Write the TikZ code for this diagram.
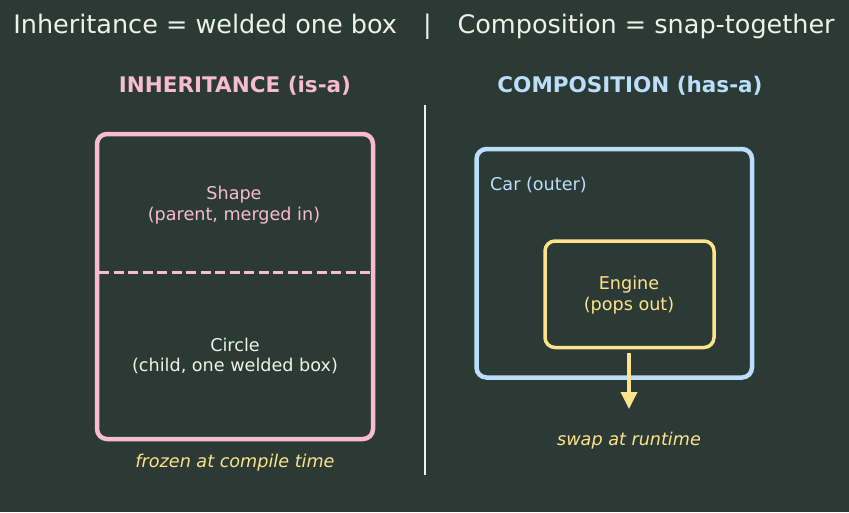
\documentclass[tikz,border=0pt]{standalone}
\usepackage{fontspec}
\setmainfont{DejaVu Sans}
\usetikzlibrary{arrows.meta}
\definecolor{bg}{HTML}{2B3A34}
\definecolor{pinkc}{HTML}{F8BBD0}
\definecolor{bluec}{HTML}{BBDEFB}
\definecolor{yelc}{HTML}{FFE38C}
\definecolor{whitec}{HTML}{EEF2E8}
\tikzset{
  x=1pt,y=-1pt,
  body/.style={font=\fontsize{17.6}{20.5}\selectfont, align=center, inner sep=0pt},
  head/.style={font=\fontsize{21.5}{24}\selectfont\bfseries, inner sep=0pt},
  note/.style={font=\fontsize{17.6}{20}\selectfont\itshape, text=yelc, inner sep=0pt},
  bigbox/.style={draw, line width=4.5pt, rounded corners=10pt, outer sep=0pt},
}
\begin{document}
\begin{tikzpicture}
\fill[bg] (0,0) rectangle (849,512);
\useasboundingbox (0,0) rectangle (849,512);
\node[inner sep=0pt, text=whitec, font=\fontsize{25.5}{30}\selectfont] (title) at (424,27) {Inheritance = welded one box\hspace{26pt}|\hspace{26pt}Composition = snap-together};
\node[head, text=pinkc] (hl) at (235,86) {INHERITANCE (is-a)};
\node[head, text=bluec] (hr) at (630,86) {COMPOSITION (has-a)};
\coordinate (dtop) at (425,105);
\coordinate (dbot) at (425,475);
\draw[whitec, line width=2pt] (dtop) -- (dbot);
% left box
\node[bigbox, pinkc, minimum width=276pt, minimum height=305pt, anchor=north west] (lbox) at (97,134) {};
\coordinate (dl) at (99,272);
\coordinate (dr) at (371,272);
\draw[pinkc, line width=3pt, dash pattern=on 10pt off 4.5pt] (dl) -- (dr);
\node[body, text=pinkc] (shape) at (234,205) {Shape\\(parent, merged in)};
\node[body, text=whitec] (circle) at (235,356) {Circle\\(child, one welded box)};
\node[note] (frozen) at (235,463) {frozen at compile time};
% right
\node[bigbox, bluec, minimum width=275.5pt, minimum height=228.5pt, anchor=north west] (car) at (476.5,149) {};
\node[body, text=bluec, anchor=west] (carl) at (490,185) {Car (outer)};
\node[draw, yelc, line width=3.5pt, rounded corners=10pt, outer sep=0pt, minimum width=169pt, minimum height=106.5pt, anchor=north west] (eng) at (545,241) {};
\node[body, text=yelc] (engt) at (629,295) {Engine\\(pops out)};
\coordinate (astart) at (629,353);
\coordinate (aend) at (629,409);
\draw[yelc, line width=3.5pt, -{Triangle[length=17pt,width=16pt]}] (astart) -- (aend);
\node[note] (swap) at (629,441) {swap at runtime};
\end{tikzpicture}
\end{document}
